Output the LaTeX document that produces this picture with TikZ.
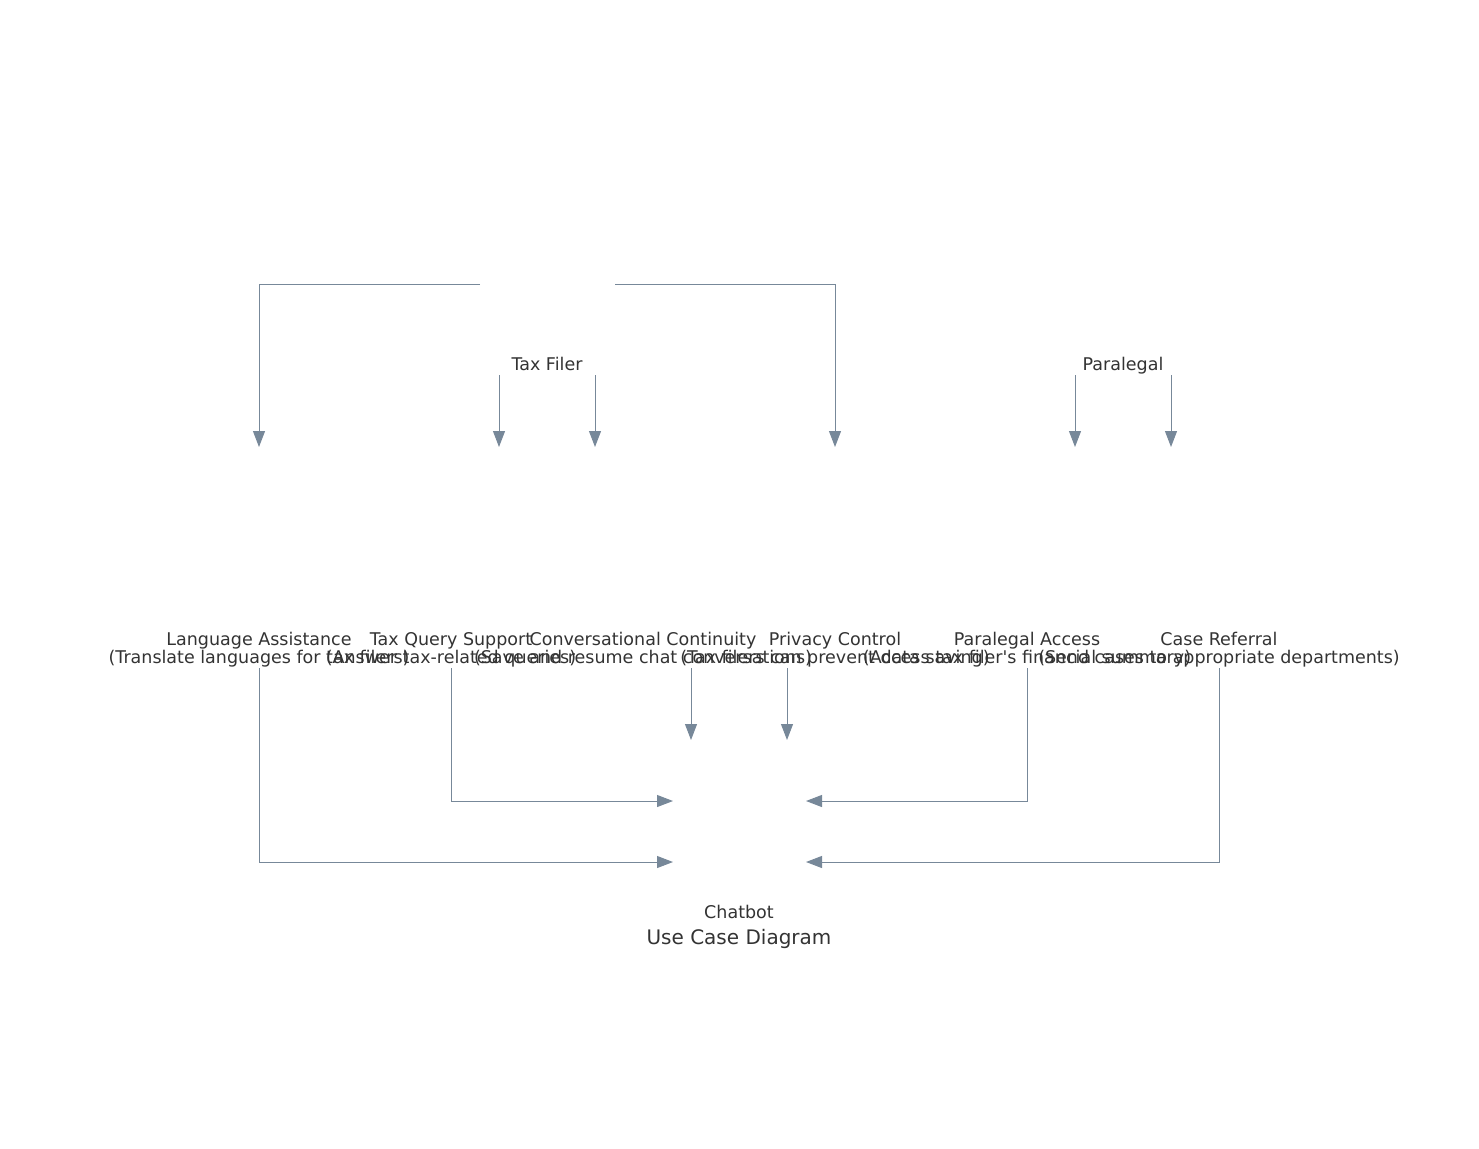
\documentclass[tikz,border=0pt]{standalone}
\usepackage{fontspec}
\setmainfont{DejaVu Sans}
\usetikzlibrary{arrows.meta}
\definecolor{edgegray}{HTML}{778899}
\definecolor{labelgray}{HTML}{333333}
\begin{document}
\begin{tikzpicture}[x=1pt,y=-1pt,
  box/.style={inner sep=0pt, outer sep=0pt, draw=none},
  actorbox/.style={box, minimum width=135pt, minimum height=91pt},
  casebox/.style={box, minimum width=96pt, minimum height=221pt},
  txt/.style={inner sep=0pt, text=labelgray, font=\fontsize{17.5}{18}\selectfont, align=center, anchor=base},
  link/.style={draw=edgegray, line width=1pt, -{Triangle[length=16pt,width=12pt]}},
]
\useasboundingbox (0,0) rectangle (1479,1148);

% actors
\node[actorbox] (tf) at (547.5,329.5) {};
\node[actorbox] (pl) at (1123,329.5) {};
\node[txt] (tftxt) at (547,370.5) {Tax Filer};
\node[txt] (pltxt) at (1123,370) {Paralegal};

% use cases (the base anchor sits on the second line)
\node[casebox] (la)  at (259,557.5) {};
\node[casebox] (tqs) at (451,557.5) {};
\node[casebox] (cc)  at (643,557.5) {};
\node[casebox] (pc)  at (835,557.5) {};
\node[casebox] (pa)  at (1027,557.5) {};
\node[casebox] (cr)  at (1219,557.5) {};

\node[txt] (latxt)  at (259,663.5)  {Language Assistance\\(Translate languages for tax filers)};
\node[txt] (tqstxt) at (451,663.5)  {Tax Query Support\\(Answer tax-related queries)};
\node[txt] (cctxt)  at (643,663.5)  {Conversational Continuity\\(Save and resume chat conversations)};
\node[txt] (pctxt)  at (835,663.5)  {Privacy Control\\(Tax filers can prevent data saving)};
\node[txt] (patxt)  at (1027,663.5) {Paralegal Access\\(Access tax filer\textquotesingle s financial summary)};
\node[txt] (crtxt)  at (1219,663.5) {Case Referral\\(Send cases to appropriate departments)};

% system
\node[box, minimum width=133pt, minimum height=122pt] (cb) at (739.5,801) {};
\node[txt] (cbtxt) at (739,918) {Chatbot};
\node[txt, font=\fontsize{20}{24}\selectfont] (title) at (739,944) {Use Case Diagram};

% tax filer associations
\draw[link] (tf.north west) -| (la.north);
\draw[link] (tf.north east) -| (pc.north);
\draw[link] (tqs.north east |- tf.south) -- (tqs.north east);
\draw[link] (cc.north west |- tf.south) -- (cc.north west);

% paralegal associations
\draw[link] (pa.north east |- pl.south) -- (pa.north east);
\draw[link] (cr.north west |- pl.south) -- (cr.north west);

% use cases into the chatbot
\draw[link] (cc.south east) -- (cc.south east |- cb.north);
\draw[link] (pc.south west) -- (pc.south west |- cb.north);
\draw[link] (tqs.south) |- (cb.west);
\draw[link] (la.south) |- (cb.south west);
\draw[link] (pa.south) |- (cb.east);
\draw[link] (cr.south) |- (cb.south east);
\end{tikzpicture}
\end{document}
